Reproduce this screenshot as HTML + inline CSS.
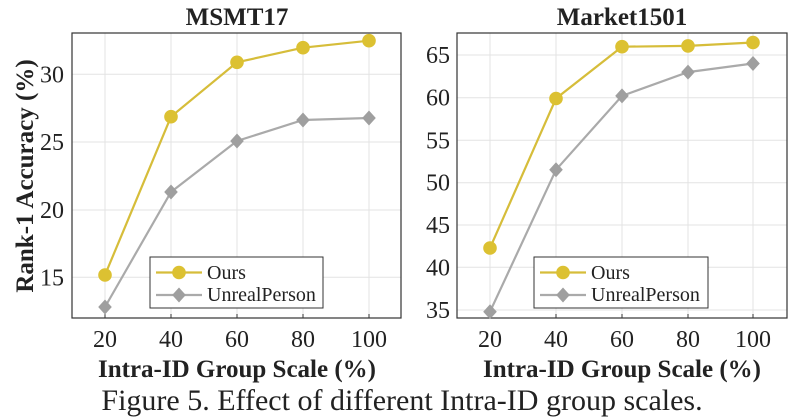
<!DOCTYPE html><html><head><style>body{margin:0;background:#fff}svg{display:block}text{font-family:"Liberation Serif",serif;fill:#222}</style></head><body>
<svg width="795" height="419" viewBox="0 0 795 419">
<defs><path id="d" d="M0,-7.5 l6.8,7.5 -6.8,7.5 -6.8,-7.5z" fill="#9f9f9f"/></defs>
<g stroke="#e3e3e3" stroke-width="1">
<line x1="105" y1="33" x2="105" y2="318"/><line x1="171" y1="33" x2="171" y2="318"/><line x1="237" y1="33" x2="237" y2="318"/><line x1="303" y1="33" x2="303" y2="318"/><line x1="369" y1="33" x2="369" y2="318"/>
<line x1="72" y1="74.3" x2="401" y2="74.3"/><line x1="72" y1="142" x2="401" y2="142"/><line x1="72" y1="210" x2="401" y2="210"/><line x1="72" y1="277.3" x2="401" y2="277.3"/>
<line x1="490" y1="33" x2="490" y2="318"/><line x1="556" y1="33" x2="556" y2="318"/><line x1="622" y1="33" x2="622" y2="318"/><line x1="688" y1="33" x2="688" y2="318"/><line x1="753" y1="33" x2="753" y2="318"/>
<line x1="457" y1="55" x2="787" y2="55"/><line x1="457" y1="97.7" x2="787" y2="97.7"/><line x1="457" y1="140.3" x2="787" y2="140.3"/><line x1="457" y1="182.7" x2="787" y2="182.7"/><line x1="457" y1="225" x2="787" y2="225"/><line x1="457" y1="267.3" x2="787" y2="267.3"/><line x1="457" y1="310" x2="787" y2="310"/>
</g>
<rect x="72" y="33" width="329" height="285" fill="none" stroke="#333" stroke-width="1.2"/>
<rect x="457" y="33" width="330" height="285" fill="none" stroke="#333" stroke-width="1.2"/>
<g stroke="#333"><line x1="105" y1="318" x2="105" y2="314"/><line x1="171" y1="318" x2="171" y2="314"/><line x1="237" y1="318" x2="237" y2="314"/><line x1="303" y1="318" x2="303" y2="314"/><line x1="369" y1="318" x2="369" y2="314"/>
<line x1="490" y1="318" x2="490" y2="314"/><line x1="556" y1="318" x2="556" y2="314"/><line x1="622" y1="318" x2="622" y2="314"/><line x1="688" y1="318" x2="688" y2="314"/><line x1="753" y1="318" x2="753" y2="314"/></g>
<polyline points="105,307 171,192 237,141 303,120 369,118" fill="none" stroke="#aaa" stroke-width="2.2"/>
<use href="#d" x="105" y="307"/><use href="#d" x="171" y="192"/><use href="#d" x="237" y="141"/><use href="#d" x="303" y="120"/><use href="#d" x="369" y="118"/>
<polyline points="105,275 171,116.7 237,62.3 303,47.7 369,40.7" fill="none" stroke="#d6bd3a" stroke-width="2.2"/>
<g fill="#dcc132"><circle cx="105" cy="275" r="6.8"/><circle cx="171" cy="116.7" r="6.8"/><circle cx="237" cy="62.3" r="6.8"/><circle cx="303" cy="47.7" r="6.8"/><circle cx="369" cy="40.7" r="6.8"/></g>
<polyline points="490,311.7 556,169.8 622,95.9 688,72.1 753,63.5" fill="none" stroke="#aaa" stroke-width="2.2"/>
<use href="#d" x="490" y="311.7"/><use href="#d" x="556" y="169.8"/><use href="#d" x="622" y="95.9"/><use href="#d" x="688" y="72.1"/><use href="#d" x="753" y="63.5"/>
<polyline points="490,248 556,98.5 622,46.7 688,45.9 753,42.5" fill="none" stroke="#d6bd3a" stroke-width="2.2"/>
<g fill="#dcc132"><circle cx="490" cy="248" r="6.8"/><circle cx="556" cy="98.5" r="6.8"/><circle cx="622" cy="46.7" r="6.8"/><circle cx="688" cy="45.9" r="6.8"/><circle cx="753" cy="42.5" r="6.8"/></g>
<rect x="150" y="257" width="173" height="51" fill="#fff" stroke="#333"/>
<line x1="156" y1="272.5" x2="202" y2="272.5" stroke="#d6bd3a" stroke-width="2.2"/><circle cx="179" cy="272.5" r="6.8" fill="#dcc132"/>
<line x1="156" y1="295" x2="202" y2="295" stroke="#aaa" stroke-width="2.2"/><use href="#d" x="179" y="295"/>
<text x="207" y="279" font-size="20">Ours</text><text x="207" y="301" font-size="20">UnrealPerson</text>
<rect x="534" y="257" width="174" height="51" fill="#fff" stroke="#333"/>
<line x1="540" y1="272.5" x2="586" y2="272.5" stroke="#d6bd3a" stroke-width="2.2"/><circle cx="563" cy="272.5" r="6.8" fill="#dcc132"/>
<line x1="540" y1="295" x2="586" y2="295" stroke="#aaa" stroke-width="2.2"/><use href="#d" x="563" y="295"/>
<text x="591" y="279" font-size="20">Ours</text><text x="591" y="301" font-size="20">UnrealPerson</text>
<g font-size="24" text-anchor="end"><text x="64" y="82.5">30</text><text x="64" y="150">25</text><text x="64" y="218">20</text><text x="64" y="285.5">15</text>
<text x="450" y="63">65</text><text x="450" y="105.7">60</text><text x="450" y="148.3">55</text><text x="450" y="190.7">50</text><text x="450" y="233">45</text><text x="450" y="275.3">40</text><text x="450" y="318">35</text></g>
<g font-size="24" text-anchor="middle"><text x="105" y="347">20</text><text x="171" y="347">40</text><text x="237" y="347">60</text><text x="303" y="347">80</text><text x="369" y="347">100</text>
<text x="490" y="347">20</text><text x="556" y="347">40</text><text x="622" y="347">60</text><text x="688" y="347">80</text><text x="753" y="347">100</text></g>
<g font-weight="bold" text-anchor="middle" font-size="25"><text x="237" y="25">MSMT17</text><text x="622" y="25">Market1501</text>
<text x="237" y="377">Intra-ID Group Scale (%)</text><text x="622" y="377">Intra-ID Group Scale (%)</text>
<text transform="translate(33,176) rotate(-90)">Rank-1 Accuracy (%)</text></g>
<text x="402" y="410" font-size="30" text-anchor="middle">Figure 5. Effect of different Intra-ID group scales.</text>
</svg></body></html>
